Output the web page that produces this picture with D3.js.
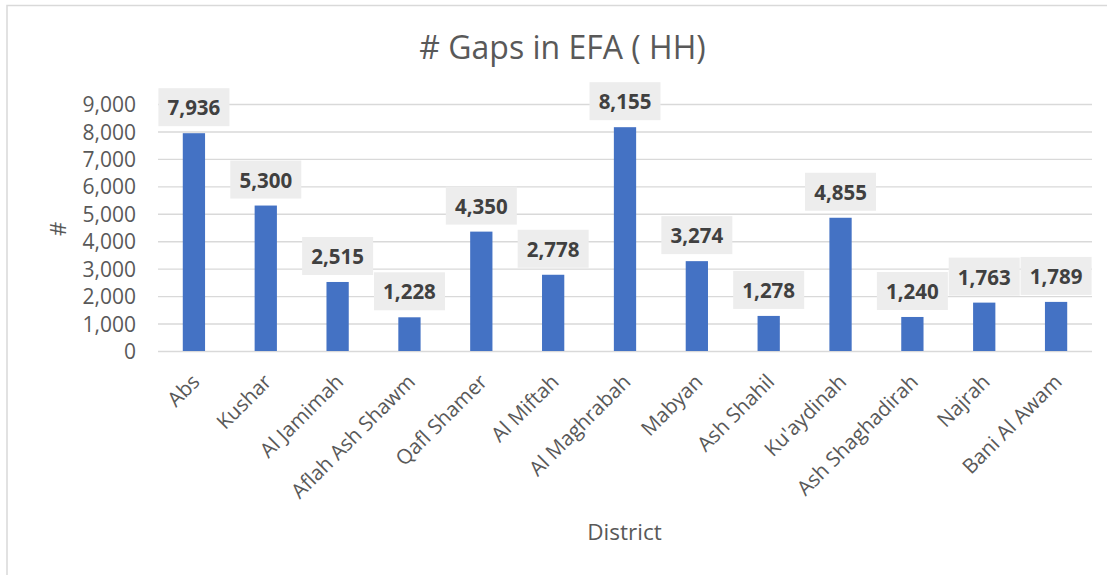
<!DOCTYPE html>
<html>
<head>
<meta charset="utf-8">
<script src="https://cdn.jsdelivr.net/npm/d3@7"></script>
<style>
  body { margin: 0; background: #fff; }
  text { font-family: "Open Sans", "Noto Sans", sans-serif; }
</style>
</head>
<body>
<div class="bar-chart"></div>
<script>
const districts = ["Abs", "Kushar", "Al Jamimah", "Aflah Ash Shawm", "Qafl Shamer", "Al Miftah",
  "Al Maghrabah", "Mabyan", "Ash Shahil", "Ku'aydinah", "Ash Shaghadirah", "Najrah", "Bani Al Awam"];
const gaps = [7936, 5300, 2515, 1228, 4350, 2778, 8155, 3274, 1278, 4855, 1240, 1763, 1789];
const yTicks = [0, 1000, 2000, 3000, 4000, 5000, 6000, 7000, 8000, 9000];

const W = 1107, H = 575;
const margin = {top: 104, right: 15, bottom: 224, left: 158};
const w = W - margin.left - margin.right;
const h = H - margin.top - margin.bottom;

const svg = d3.select(".bar-chart")
  .append("svg")
  .attr("width", W)
  .attr("height", H);

// outer frame (runs off the right and bottom edges)
svg.append("rect")
  .attr("x", 7).attr("y", 5.5)
  .attr("width", 1110).attr("height", 580)
  .attr("fill", "none")
  .attr("stroke", "#d9d9d9")
  .attr("stroke-width", 1.5);

const g = svg.append("g")
  .attr("transform", `translate(${margin.left},${margin.top})`);

const x = d3.scaleBand()
  .domain(districts)
  .range([0, w])
  .paddingInner(0.69)
  .paddingOuter(0.345);

const y = d3.scaleLinear()
  .domain([0, 9000])
  .range([h, 0]);

// gridlines + y labels
const yAxis = d3.axisLeft(y)
  .tickValues(yTicks)
  .tickFormat(d3.format(","))
  .tickSize(-w)
  .tickPadding(22);

g.append("g")
  .attr("class", "y-axis")
  .call(yAxis)
  .call(a => a.select(".domain").remove())
  .call(a => a.selectAll(".tick line").attr("stroke", "#d9d9d9").attr("stroke-width", 1.4))
  .call(a => a.selectAll(".tick text")
    .attr("fill", "#595959")
    .attr("font-size", 21)
    .attr("dy", "0.36em"));

// x labels
const xAxis = d3.axisBottom(x).tickSize(0).tickPadding(0);
g.append("g")
  .attr("class", "x-axis")
  .attr("transform", `translate(0,${h})`)
  .call(xAxis)
  .call(a => a.select(".domain").remove())
  .call(a => a.selectAll(".tick text")
    .attr("fill", "#595959")
    .attr("font-size", 20.5)
    .attr("text-anchor", "end")
    .attr("dy", 0)
    .attr("y", 0)
    .attr("transform", "translate(7,32) rotate(-45)"));

// bars
g.selectAll(".bar")
  .data(gaps)
  .join("rect")
  .attr("class", "bar")
  .attr("x", (d, i) => x(districts[i]))
  .attr("y", d => y(d))
  .attr("width", x.bandwidth())
  .attr("height", d => h - y(d))
  .attr("fill", "#4472c4");

// data labels with gray boxes
const lab = g.selectAll(".lab")
  .data(gaps)
  .join("g")
  .attr("class", "lab")
  .attr("transform", (d, i) => `translate(${x(districts[i]) + x.bandwidth() / 2},${y(d) - 7})`);

lab.append("rect")
  .attr("x", -35.5)
  .attr("y", -38)
  .attr("width", 71)
  .attr("height", 38)
  .attr("fill", "#ededed");

lab.append("text")
  .attr("text-anchor", "middle")
  .attr("y", -11)
  .attr("font-size", 20.5)
  .attr("font-weight", "bold")
  .attr("fill", "#404040")
  .text(d => d3.format(",")(d));

// title
svg.append("text")
  .attr("x", 562.5)
  .attr("y", 59)
  .attr("text-anchor", "middle")
  .attr("font-size", 32)
  .attr("fill", "#595959")
  .text("# Gaps in EFA ( HH)");

// axis titles
svg.append("text")
  .attr("transform", "translate(66,229) rotate(-90)")
  .attr("text-anchor", "middle")
  .attr("font-size", 22)
  .attr("fill", "#595959")
  .text("#");

svg.append("text")
  .attr("x", 624.5)
  .attr("y", 540)
  .attr("text-anchor", "middle")
  .attr("font-size", 22.5)
  .attr("fill", "#595959")
  .text("District");
</script>
</body>
</html>
